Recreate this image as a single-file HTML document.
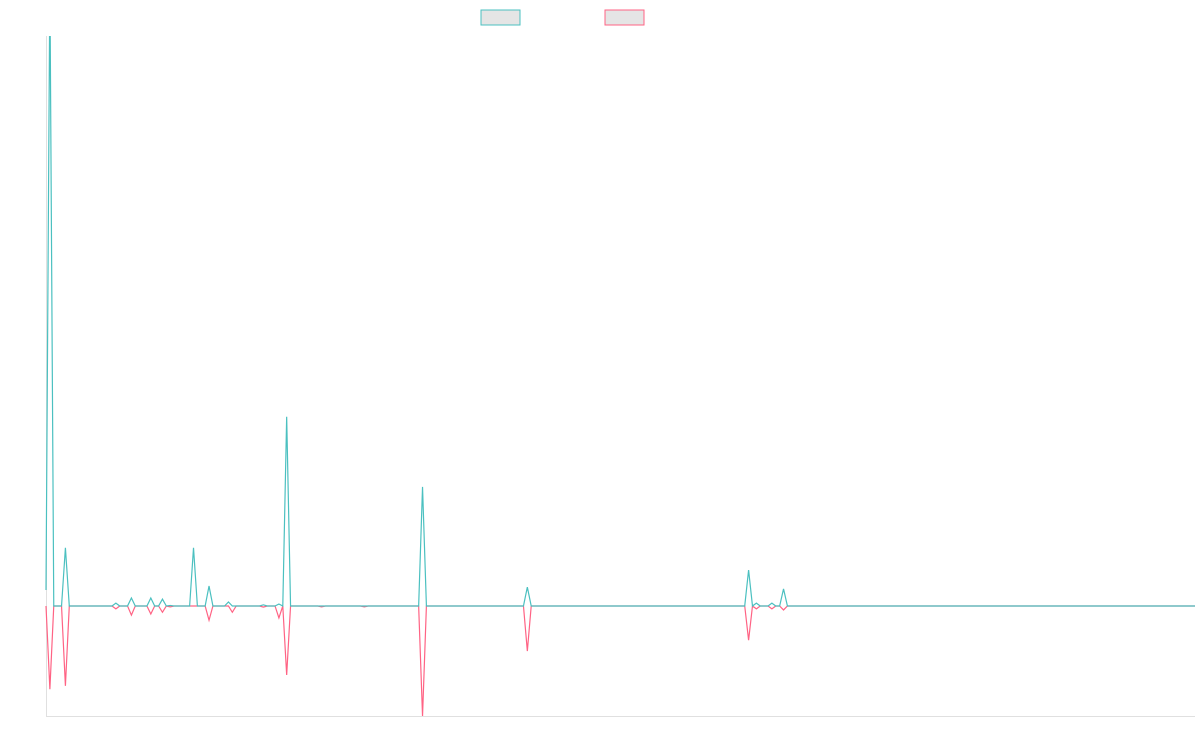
<!DOCTYPE html>
<html><head><meta charset="utf-8"><style>
html,body{margin:0;padding:0;background:#fff;width:1200px;height:750px;overflow:hidden;font-family:"Liberation Sans",sans-serif}
</style></head><body>
<svg id="chart" width="1200" height="750" viewBox="0 0 1200 750" xmlns="http://www.w3.org/2000/svg">
<defs><clipPath id="plotclip"><rect x="40" y="36" width="1160" height="690"/></clipPath></defs>
<rect x="481" y="10" width="39" height="15" fill="#e5e5e5" stroke="#4bc0c0" stroke-width="1"/>
<rect x="605" y="10" width="39" height="15" fill="#e5e5e5" stroke="#ff6384" stroke-width="1"/>
<line x1="46.5" y1="36" x2="46.5" y2="716" stroke="#e0e0e0"/>
<line x1="46" y1="716.5" x2="1195" y2="716.5" stroke="#e0e0e0"/>
<g id="plot" clip-path="url(#plotclip)"></g>
</svg>
<script>
const pointCount = 297;
const tealIdx = [0, 1, 5, 18, 22, 27, 30, 32, 38, 42, 47, 56, 60, 62, 97, 124, 181, 183, 187, 190];
const tealVal = [2.8, 110, 10.2, 0.5, 1.4, 1.4, 1.2, 0.1, 10.2, 3.5, 0.7, 0.2, 0.35, 33.2, 20.9, 3.3, 6.3, 0.5, 0.5, 3.0];
const redIdx = [1, 5, 18, 22, 27, 30, 32, 42, 48, 56, 60, 62, 71, 82, 97, 124, 181, 183, 187, 190];
const redVal = [-14.6, -14.0, -0.5, -1.6, -1.4, -1.1, -0.15, -2.5, -1.1, -0.2, -2.1, -12.1, -0.15, -0.15, -19.3, -7.9, -6.0, -0.5, -0.5, -0.7];
const yMin = -19.3, yMax = 100;
const X0 = 46, X1 = 1195, YTOP = 36, YBOT = 716;
function xs(i){ return X0 + i * (X1 - X0) / (pointCount - 1); }
function ys(v){ return YBOT - (v - yMin) / (yMax - yMin) * (YBOT - YTOP); }
function series(idx, vals){
  const arr = new Array(pointCount).fill(0);
  idx.forEach((k, j) => { arr[k] = vals[j]; });
  return arr;
}
const plot = document.getElementById('plot');
function draw(arr, color, name){
  const p = document.createElementNS('http://www.w3.org/2000/svg', 'path');
  
  
  p.setAttribute('d', arr.map((v, i) => (i ? 'L' : 'M') + xs(i).toFixed(2) + ' ' + ys(v).toFixed(2)).join(' '));
  p.setAttribute('fill', 'none');
  p.setAttribute('stroke', color);
  p.setAttribute('stroke-width', '1.2');
  p.setAttribute('stroke-linejoin', 'miter');
  plot.appendChild(p);
}
draw(series(redIdx, redVal), '#ff6384', 'series-b-line');
draw(series(tealIdx, tealVal), '#4bc0c0', 'series-a-line');
</script>
</body></html>
